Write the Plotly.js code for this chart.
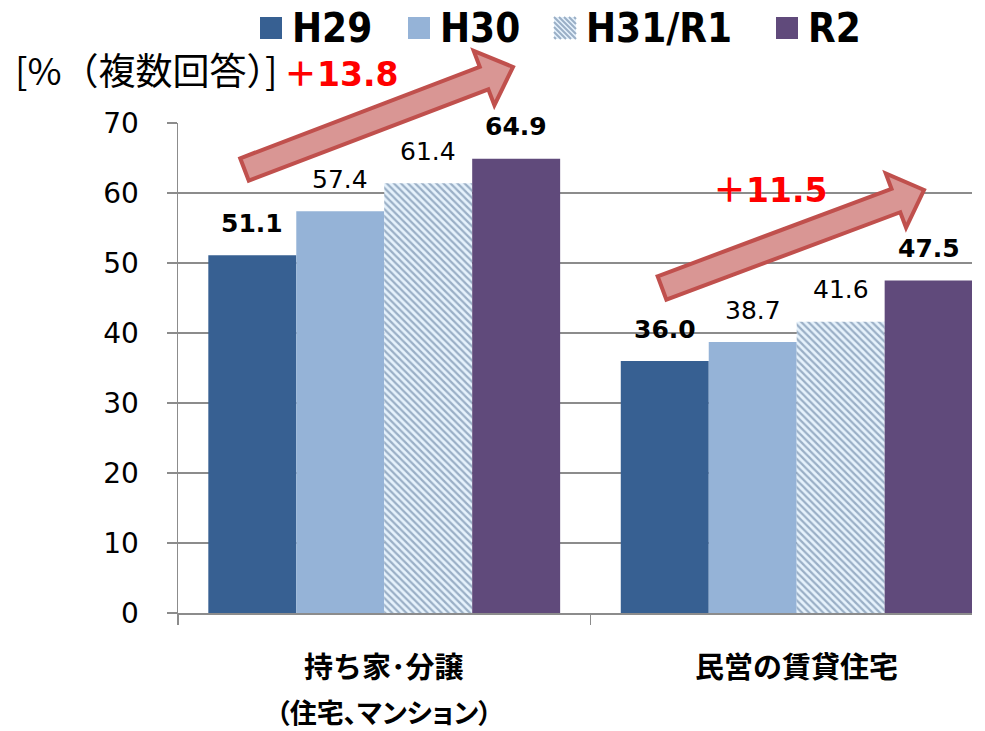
<!DOCTYPE html>
<html>
<head>
<meta charset="utf-8">
<script src="https://cdn.plot.ly/plotly-3.0.1.min.js"></script>
<style>
  html, body { margin: 0; padding: 0; background: #fff; }
  #chart { width: 985px; height: 731px; }
</style>
</head>
<body>
<div id="chart"></div>
<script>
// ---------- data ----------
const categories = ['持ち家･分譲', '民営の賃貸住宅'];
const categorySubLabels = ['（住宅、マンション）', ''];
const seriesNames = ['H29', 'H30', 'H31/R1', 'R2'];
const valuesH29 = [51.1, 36.0];
const valuesH30 = [57.4, 38.7];
const valuesH31R1 = [61.4, 41.6];
const valuesR2 = [64.9, 47.5];
const yTickValues = [0, 10, 20, 30, 40, 50, 60, 70];
const yAxisLabel = '[%（複数回答）]';

// ---------- styles ----------
const LATIN = '"DejaVu Sans", "Noto Sans CJK JP", sans-serif';
const LATIN_COND = '"DejaVu Sans Condensed", "DejaVu Sans", sans-serif';
const CJK = '"Noto Sans CJK JP", "DejaVu Sans", sans-serif';
const seriesValues = [valuesH29, valuesH30, valuesH31R1, valuesR2];
const seriesColors = ['#376092', '#95B3D7', '#E6F2FC', '#604A7B'];
const hatchFg = '#9AAFC6', hatchBg = '#E6F2FC';
const labelBold = [true, false, false, true];

const W = 985, H = 731;
const M = { l: 178, r: 13, t: 123, b: 118 };
const PW = W - M.l - M.r, PH = H - M.t - M.b;
const px2paperX = x => (x - M.l) / PW;
const px2paperY = y => (H - M.b - y) / PH;

const traces = seriesNames.map((name, i) => {
  const t = {
    type: 'bar',
    name: name,
    x: categories,
    y: seriesValues[i],
    marker: { color: seriesColors[i], line: { width: 0 } },
    hoverinfo: 'skip',
    showlegend: false
  };
  if (i === 2) {
    t.marker.pattern = { shape: '\\', fgcolor: hatchFg, bgcolor: hatchBg, size: 5, solidity: 0.45 };
  }
  return t;
});

const annotations = [];
const shapes = [];

// value labels
seriesValues.forEach((vals, i) => {
  vals.forEach((v, j) => {
    annotations.push({
      xref: 'x', yref: 'y', x: categories[j], y: v,
      xshift: (i - 1.5) * 88, yshift: 32,
      text: v.toFixed(1), showarrow: false, yanchor: 'middle',
      font: { family: LATIN, size: 25, color: '#000', weight: labelBold[i] ? 'bold' : 'normal' }
    });
  });
});
// category labels
categories.forEach((c, j) => {
  annotations.push({
    xref: 'x', yref: 'paper', x: c, y: px2paperY(665), yanchor: 'middle',
    text: c, showarrow: false,
    font: { family: CJK, size: 29, color: '#000', weight: 'bold' }
  });
  if (categorySubLabels[j]) {
    annotations.push({
      xref: 'x', yref: 'paper', x: c, y: px2paperY(711), yanchor: 'middle',
      text: categorySubLabels[j], showarrow: false,
      font: { family: CJK, size: 27, color: '#000', weight: 'bold' }
    });
  }
});
// y axis unit label
annotations.push({
  xref: 'paper', yref: 'paper', x: px2paperX(13), y: px2paperY(69),
  xanchor: 'left', yanchor: 'middle', text: yAxisLabel, showarrow: false,
  font: { family: CJK, size: 37, color: '#000' }
});
// increase labels
const incPos = [[341, 75], [770, 190]];
categories.forEach((c, j) => {
  const d = valuesR2[j] - valuesH29[j];
  annotations.push({
    xref: 'paper', yref: 'paper', x: px2paperX(incPos[j][0]), y: px2paperY(incPos[j][1]),
    xanchor: 'center', yanchor: 'middle', text: '＋' + d.toFixed(1), showarrow: false,
    font: { family: LATIN, size: 33, color: '#FF0000', weight: 'bold' }
  });
});

// manual legend (squares + labels)
const legSquareX = [260, 408, 554, 776];
const legTextX = [290, 438, 584, 806];
const legY = 28, legS = 22;
seriesNames.forEach((name, i) => {
  const x0 = legSquareX[i], y0 = legY - legS / 2;
  shapes.push({
    type: 'rect', xref: 'paper', yref: 'paper',
    x0: px2paperX(x0), x1: px2paperX(x0 + legS), y0: px2paperY(y0 + legS), y1: px2paperY(y0),
    fillcolor: seriesColors[i], line: { width: 0 }
  });
  if (i === 2) {
    let p = '';
    for (let k = -legS + 2; k < legS; k += 5) {
      const xa = x0 + Math.max(0, k), ya = y0 + Math.max(0, -k);
      const xb = x0 + Math.min(legS, legS + k), yb = y0 + Math.min(legS, legS - k);
      p += 'M' + px2paperX(xa).toFixed(5) + ',' + px2paperY(ya).toFixed(5) +
           'L' + px2paperX(xb).toFixed(5) + ',' + px2paperY(yb).toFixed(5);
    }
    shapes.push({ type: 'path', xref: 'paper', yref: 'paper', path: p, line: { color: hatchFg, width: 2 } });
  }
  annotations.push({
    xref: 'paper', yref: 'paper', x: px2paperX(legTextX[i]), y: px2paperY(legY),
    xanchor: 'left', yanchor: 'middle', text: name, showarrow: false,
    font: { family: LATIN_COND, size: 40, color: '#000', weight: 'bold' }
  });
});

// block arrows (decoration)
function blockArrow(tail, tip, hw, headHw, headLen) {
  const dx = tip[0] - tail[0], dy = tip[1] - tail[1];
  const L = Math.hypot(dx, dy);
  const u = [dx / L, dy / L];
  const v = [-u[1], u[0]];
  const pt = (a, b) => [tail[0] + a * u[0] + b * v[0], tail[1] + a * u[1] + b * v[1]];
  const pts = [pt(0, -hw), pt(L - headLen, -hw), pt(L - headLen, -headHw), pt(L, 0),
               pt(L - headLen, headHw), pt(L - headLen, hw), pt(0, hw)];
  return 'M' + pts.map(p => px2paperX(p[0]).toFixed(5) + ',' + px2paperY(p[1]).toFixed(5)).join('L') + 'Z';
}
shapes.push(
  { type: 'path', xref: 'paper', yref: 'paper', layer: 'above',
    path: blockArrow([244.5, 169.5], [513, 67], 12, 29, 31),
    fillcolor: '#D99694', line: { color: '#C0504D', width: 4 } },
  { type: 'path', xref: 'paper', yref: 'paper', layer: 'above',
    path: blockArrow([662, 288], [924, 190], 12.5, 29, 30),
    fillcolor: '#D99694', line: { color: '#C0504D', width: 4 } }
);

const layout = {
  width: W, height: H,
  margin: M,
  paper_bgcolor: '#fff', plot_bgcolor: '#fff',
  barmode: 'group', bargap: 0.147, bargroupgap: 0,
  showlegend: false,
  xaxis: {
    type: 'category', range: [-0.5, 1.425], fixedrange: true,
    showticklabels: false, tickson: 'boundaries', ticks: 'outside', ticklen: 10, tickwidth: 1.5, tickcolor: '#8c8c8c',
    showline: true, linecolor: '#8c8c8c', linewidth: 1.5, showgrid: false, zeroline: false
  },
  yaxis: {
    range: [0, 70], tickvals: yTickValues, ticks: 'outside', ticklen: 10, tickwidth: 1.5, tickcolor: '#8c8c8c',
    showline: true, linecolor: '#8c8c8c', linewidth: 1.5, showgrid: true, gridcolor: '#8c8c8c', gridwidth: 1.5,
    zeroline: false, ticklabelstandoff: 22, fixedrange: true,
    tickfont: { family: LATIN, size: 28, color: '#000' }
  },
  annotations: annotations,
  shapes: shapes
};

Plotly.newPlot('chart', traces, layout, { displayModeBar: false, staticPlot: true }).then(gd => {
  gd.querySelectorAll('.annotation-text').forEach(t => {
    if (t.textContent === categorySubLabels[0]) t.style.fontFeatureSettings = '"palt"';
  });
});
</script>
</body>
</html>
